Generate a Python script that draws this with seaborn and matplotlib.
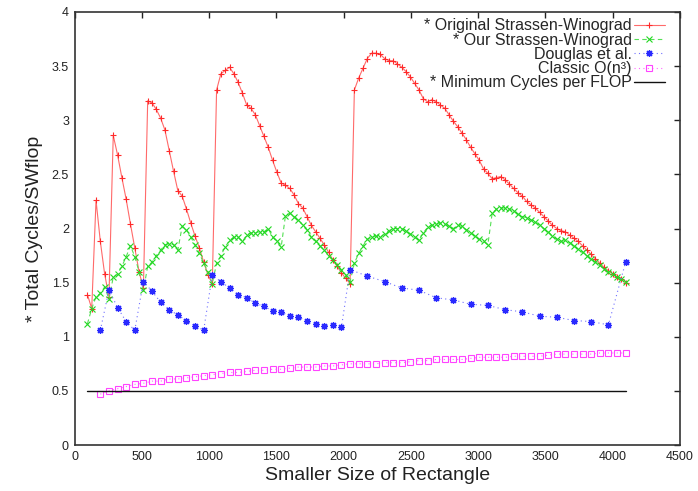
import matplotlib
matplotlib.use("Agg")
import matplotlib.pyplot as plt
import seaborn as sns
import numpy as np

# x sampling of the curves (matrix sizes)
x_sw = np.arange(96, 4097, 32)
x_douglas = np.concatenate([np.arange(192, 2048, 64), np.arange(2048, 4097, 128)])
x_classic = np.arange(192, 4097, 64)
x_min = [96, 4096]

# * Original Strassen-Winograd
orig_sw = [1.39, 1.26, 2.26, 1.88, 1.58, 1.37, 2.86, 2.68, 2.47, 2.27, 2.04, 1.82, 1.60, 1.45,
           3.18, 3.16, 3.10, 3.02, 2.91, 2.72, 2.53, 2.35, 2.30, 2.18, 2.05, 1.93, 1.82, 1.69, 1.57, 1.49,
           3.28, 3.43, 3.46, 3.49, 3.43, 3.35, 3.25, 3.14, 3.11, 3.05, 2.95, 2.85, 2.75, 2.63, 2.52, 2.42,
           2.40, 2.37, 2.31, 2.23, 2.19, 2.11, 2.03, 1.97, 1.91, 1.85, 1.78, 1.71, 1.65, 1.59, 1.54, 1.49,
           3.28, 3.39, 3.48, 3.57, 3.62, 3.62, 3.61, 3.57, 3.55, 3.55,
           3.52, 3.49, 3.45, 3.40, 3.34, 3.28, 3.20, 3.17, 3.19, 3.17,
           3.14, 3.11, 3.05, 2.99, 2.94, 2.88, 2.82, 2.75, 2.69, 2.63,
           2.55, 2.51, 2.46, 2.47, 2.48, 2.45, 2.41, 2.37, 2.33, 2.30,
           2.25, 2.22, 2.19, 2.15, 2.11, 2.07, 2.03, 2.00, 1.98, 1.97,
           1.94, 1.91, 1.88, 1.84, 1.80, 1.76, 1.72, 1.68, 1.64, 1.61,
           1.58, 1.55, 1.53, 1.50]

# * Our Strassen-Winograd
our_sw = [1.12, 1.26, 1.37, 1.40, 1.46, 1.35, 1.55, 1.58, 1.65, 1.74, 1.84, 1.74, 1.60, 1.43,
          1.65, 1.69, 1.75, 1.80, 1.85, 1.86, 1.85, 1.80, 2.02, 1.99, 1.92, 1.85, 1.77, 1.68, 1.60, 1.49,
          1.68, 1.75, 1.83, 1.89, 1.92, 1.92, 1.88, 1.94, 1.96, 1.96, 1.97, 1.97, 2.00, 1.92, 1.88, 1.83,
          2.12, 2.14, 2.11, 2.08, 2.03, 1.99, 1.92, 1.88, 1.84, 1.80, 1.75, 1.71, 1.66, 1.62, 1.57, 1.51,
          1.68, 1.77, 1.84, 1.90, 1.92, 1.93, 1.92, 1.95, 1.98, 2.00,
          2.00, 2.00, 1.98, 1.95, 1.92, 1.89, 1.96, 2.01, 2.03, 2.04,
          2.05, 2.04, 2.02, 2.00, 2.03, 2.02, 1.99, 1.96, 1.93, 1.90,
          1.88, 1.85, 2.14, 2.18, 2.19, 2.19, 2.18, 2.16, 2.13, 2.11,
          2.10, 2.08, 2.06, 2.03, 2.00, 1.97, 1.93, 1.90, 1.88, 1.89,
          1.87, 1.84, 1.81, 1.78, 1.75, 1.72, 1.69, 1.66, 1.63, 1.60,
          1.58, 1.55, 1.53, 1.51]

# Douglas et al.
douglas = [1.06, 1.43, 1.27, 1.14, 1.06, 1.51, 1.42, 1.32, 1.25, 1.20,
           1.15, 1.10, 1.06, 1.57, 1.51, 1.45, 1.39, 1.36, 1.31, 1.28,
           1.24, 1.23, 1.19, 1.18, 1.15, 1.12, 1.10, 1.11, 1.09,
           1.62, 1.56, 1.51, 1.45, 1.43, 1.36, 1.34, 1.30, 1.29, 1.25,
           1.23, 1.19, 1.18, 1.15, 1.14, 1.11, 1.69]

# Classic O(n^3)
classic = [0.47, 0.50, 0.52, 0.54, 0.56, 0.57, 0.59, 0.59, 0.61, 0.61,
           0.62, 0.63, 0.64, 0.65, 0.66, 0.67, 0.67, 0.68, 0.69, 0.69,
           0.70, 0.70, 0.71, 0.72, 0.72, 0.72, 0.73, 0.73, 0.74, 0.75,
           0.75, 0.75, 0.75, 0.76, 0.76, 0.76, 0.77, 0.78, 0.78, 0.79,
           0.79, 0.79, 0.79, 0.80, 0.81, 0.81, 0.81, 0.81, 0.82, 0.82,
           0.82, 0.82, 0.83, 0.84, 0.84, 0.84, 0.84, 0.84, 0.85, 0.85,
           0.85, 0.85]

# * Minimum Cycles per FLOP
min_cycles = [0.5, 0.5]

xticks = [0, 500, 1000, 1500, 2000, 2500, 3000, 3500, 4000, 4500]
yticks = [0, 0.5, 1, 1.5, 2, 2.5, 3, 3.5, 4]
ytick_labels = ["0", "0.5", "1", "1.5", "2", "2.5", "3", "3.5", "4"]

sns.set_theme(style="white")
plt.rcParams['font.family'] = ['Liberation Sans', 'DejaVu Sans']

fig = plt.figure(figsize=(6.98, 4.91), dpi=100)
ax = fig.add_axes([74.5 / 698, 1 - 445 / 491, (680 - 74.5) / 698, (445 - 12) / 491])

# gnuplot-like: pale thin lines, stronger point symbols
sns.lineplot(x=x_sw, y=orig_sw, ax=ax, color="#ff6a6a", linewidth=0.8, linestyle="-",
             marker="+", markersize=5, markeredgewidth=0.8, markeredgecolor="#ff2a2a",
             label="* Original Strassen-Winograd")
sns.lineplot(x=x_sw, y=our_sw, ax=ax, color="#55e055", linewidth=0.8, linestyle=(0, (4, 3)),
             marker="x", markersize=4.2, markeredgewidth=0.8, markeredgecolor="#22d822",
             label="* Our Strassen-Winograd")
sns.lineplot(x=x_douglas, y=douglas, ax=ax, color="#7070ff", linewidth=0.8, linestyle=(0, (1, 3)),
             marker=(8, 2, 0), markersize=5, markeredgewidth=0.9, markeredgecolor="#2a2aff",
             label="Douglas et al.")
sns.lineplot(x=x_classic, y=classic, ax=ax, color="#ff66ff", linewidth=0.8, linestyle=(0, (1, 3)),
             marker="s", markersize=4.8, markeredgewidth=0.8, markeredgecolor="#ff44ff",
             markerfacecolor="none", label="Classic O(n³)")
sns.lineplot(x=x_min, y=min_cycles, ax=ax, color="#111111", linewidth=1.0,
             label="* Minimum Cycles per FLOP")

ax.set_xlim(0, 4500)
ax.set_ylim(0, 4)
ax.set_xticks(xticks)
ax.set_yticks(yticks)
ax.set_yticklabels(ytick_labels)
ax.tick_params(direction="in", top=True, right=True, length=4, width=1,
               labelsize=9, colors="#222222", pad=4)
for side in ax.spines.values():
    side.set_color("#333333")
    side.set_linewidth(1.2)

ax.set_xlabel("Smaller Size of Rectangle", fontsize=14, color="#222222", labelpad=3)
ax.set_ylabel("* Total Cycles/SWflop", fontsize=14, color="#222222", labelpad=6)

ax.legend(loc="upper right", bbox_to_anchor=(0.976, 0.985), frameon=False, markerfirst=False,
          fontsize=11.5, labelspacing=-0.05, handlelength=2.0, handletextpad=0.1,
          borderpad=0, borderaxespad=0)

fig.savefig("out.png", dpi=100)
